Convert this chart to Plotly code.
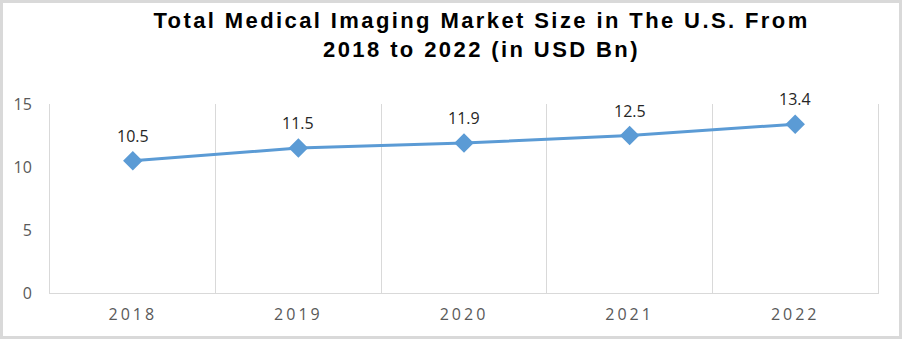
import plotly.graph_objects as go

years = ["2018", "2019", "2020", "2021", "2022"]
values = [10.5, 11.5, 11.9, 12.5, 13.4]
y_ticks = [0, 5, 10, 15]
title_lines = ["Total Medical Imaging Market Size in The U.S. From", "2018 to 2022 (in USD Bn)"]

W, H = 902, 339
ML, MR, MT, MB = 50, 24, 104, 46
pw, ph = W - ML - MR, H - MT - MB

fig = go.Figure()
fig.add_trace(go.Scatter(
    x=years, y=values, mode="lines+markers",
    line=dict(color="#5B9BD5", width=3),
    marker=dict(symbol="diamond", size=15, color="#5B9BD5"),
    cliponaxis=False, showlegend=False, hoverinfo="x+y",
))

for i, v in enumerate(values):
    fig.add_annotation(x=i, y=v, xref="x", yref="y", text=f"{v:.1f}", showarrow=False,
                       yshift=25, font=dict(family="Open Sans", size=16, color="#262626"))

def px_to_paper_x(px):
    return (px - ML) / pw

def px_to_paper_y(py):
    return (H - MB - py) / ph

fig.add_shape(type="rect", xref="paper", yref="paper",
              x0=px_to_paper_x(1.5), x1=px_to_paper_x(W - 1.5),
              y0=px_to_paper_y(H - 1.5), y1=px_to_paper_y(1.5),
              line=dict(color="#D9D9D9", width=3), layer="below")

title_text = "<br>".join(f'<span style="letter-spacing:2.4px">{t}</span>' for t in title_lines)
tick_text = [f'<span style="letter-spacing:3px">{y}</span>' for y in years]

fig.update_layout(
    width=W, height=H,
    margin=dict(l=ML, r=MR, t=MT, b=MB),
    paper_bgcolor="white", plot_bgcolor="white",
    title=dict(
        text=title_text,
        x=481.5 / W, xref="container", xanchor="center", y=1 - 28 / H, yanchor="middle",
        font=dict(family="Liberation Sans", size=22, color="black", weight="bold"),
    ),
    xaxis=dict(
        type="category", tickson="boundaries", showgrid=True, gridcolor="#D9D9D9", gridwidth=1,
        showline=True, linecolor="#D9D9D9", linewidth=1, ticks="",
        tickvals=years, ticktext=tick_text,
        tickfont=dict(family="Open Sans", size=16, color="#595959"),
        range=[-0.5, 4.5], ticklabelstandoff=7,
    ),
    yaxis=dict(
        range=[0, 15], tickvals=y_ticks, showgrid=False, zeroline=False,
        showline=True, mirror=True, linecolor="#D9D9D9", linewidth=1, ticks="",
        tickfont=dict(family="Open Sans", size=16, color="#595959"),
        ticklabelstandoff=14,
    ),
)

fig.write_html("out.html")
